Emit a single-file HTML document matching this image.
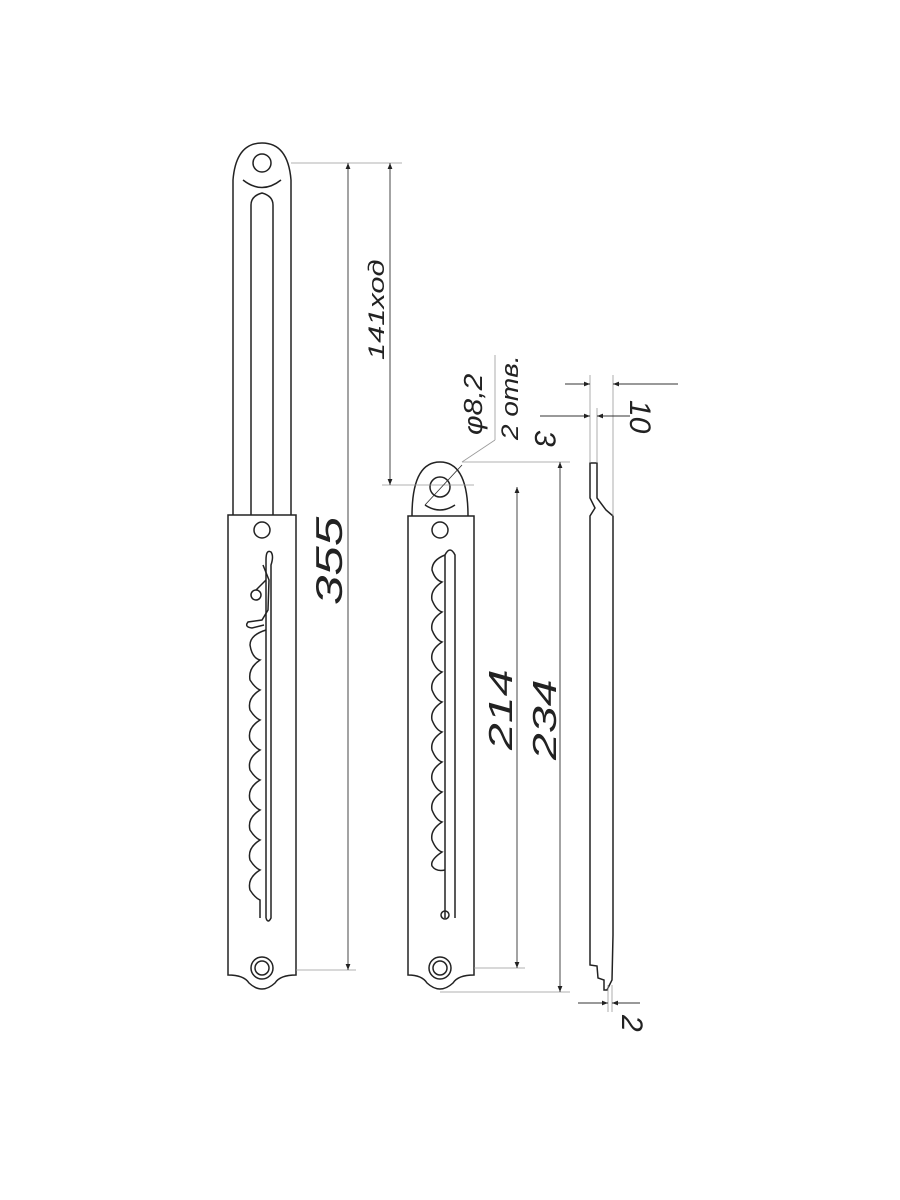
<!DOCTYPE html>
<html><head><meta charset="utf-8"><style>html,body{margin:0;padding:0;background:#fff}svg{display:block}</style></head>
<body>
<svg width="900" height="1200" viewBox="0 0 900 1200" xmlns="http://www.w3.org/2000/svg" font-family="Liberation Sans, sans-serif">
<defs>
<marker id="a" viewBox="0 0 10 10" refX="10" refY="5" markerWidth="18" markerHeight="6" orient="auto-start-reverse" markerUnits="userSpaceOnUse"><path d="M0,1 L10,5 L0,9 Z" fill="#222"/></marker>
</defs>
<g fill="none" stroke="#222" stroke-width="1.5">
<path d="M233,515 L233,180 Q236,143 262,143 Q288,143 291,180 L291,515"/>
<circle cx="262" cy="163" r="9"/>
<path d="M243,180 Q262,195 281,180"/>
<path d="M251,515 L251,205 Q251,196 262,193 Q273,196 273,205 L273,515"/>
<path d="M228,515 L296,515 L296,975 Q280,975 275,983 Q262,995 249,983 Q244,975 228,975 Z"/>
<circle cx="262" cy="530" r="8"/>
<circle cx="262" cy="968" r="11"/><circle cx="262" cy="968" r="7"/>
<path d="M266,918 L266,560 Q266,549 271,552 Q274,556 271,565 L271,918 Q268,924 266,918"/>
<path d="M263,565 L269,580 L268,610 L262,620 L248,622 Q244,627 252,628 L264,625 M256,590 L266,580"/>
<circle cx="256" cy="595" r="5"/>
<path d="M266,630 Q250,635 250,645 Q252,658 260,660 Q248,668 250,680 Q255,688 260,690 Q247,698 250,710 Q255,718 260,720 Q247,728 250,740 Q255,748 260,750 Q247,758 250,770 Q255,778 260,780 Q247,788 250,800 Q255,808 260,810 Q247,818 250,830 Q255,838 260,840 Q247,848 250,860 Q255,868 260,870 Q247,878 250,890 Q255,898 260,900 L260,918"/>
<path d="M412,516 Q412,462 440,462 Q468,462 468,516"/>
<circle cx="440" cy="487" r="10"/>
<path d="M425,505 Q440,515 455,505"/>
<path d="M408,516 L474,516 L474,975 Q458,975 453,983 Q440,995 427,983 Q422,975 408,975 Z"/>
<circle cx="440" cy="530" r="8"/>
<circle cx="440" cy="968" r="11"/><circle cx="440" cy="968" r="7"/>
<path d="M445,918 L445,555 Q450,545 455,555 L455,918"/>
<circle cx="445" cy="915" r="4"/>
<path d="M445,555 Q432,560 432,570 Q435,580 442,582 Q430,590 432,600 Q436,610 442,612 Q430,620 432,630 Q436,640 442,642 Q430,650 432,660 Q436,670 442,672 Q430,680 432,690 Q436,700 442,702 Q430,710 432,720 Q436,730 442,732 Q430,740 432,750 Q436,760 442,762 Q430,770 432,780 Q436,790 442,792 Q430,800 432,810 Q436,820 442,822 Q430,830 432,840 Q436,850 442,852 Q430,860 432,866 Q436,872 445,870"/>
<path d="M590,463 L597,463 L597,498 L606,510 L613,516 L613,935 L612,980 L607,990 L604,990 L604,980 L598,978 L597,966 L590,965 L590,516 L595,508 L590,498 Z"/>
</g>
<g fill="none" stroke="#999" stroke-width="0.8">
<line x1="291" y1="163" x2="402" y2="163"/><line x1="296" y1="970" x2="356" y2="970"/>
<line x1="382" y1="485" x2="474" y2="485"/><line x1="462" y1="462" x2="570" y2="462"/>
<line x1="474" y1="968" x2="525" y2="968"/><line x1="440" y1="992" x2="570" y2="992"/>
<line x1="590" y1="375" x2="590" y2="463"/><line x1="613" y1="375" x2="613" y2="516"/><line x1="597" y1="408" x2="597" y2="463"/>
<line x1="608" y1="985" x2="608" y2="1012"/><line x1="612" y1="985" x2="612" y2="1012"/>
<line x1="462" y1="462" x2="495" y2="440"/><line x1="495" y1="440" x2="495" y2="355"/>
</g>
<g stroke="#333" stroke-width="0.9" fill="none">
<line x1="348" y1="163" x2="348" y2="970" marker-start="url(#a)" marker-end="url(#a)"/>
<line x1="390" y1="163" x2="390" y2="485" marker-start="url(#a)" marker-end="url(#a)"/>
<line x1="517" y1="487" x2="517" y2="968" marker-start="url(#a)" marker-end="url(#a)"/>
<line x1="560" y1="462" x2="560" y2="992" marker-start="url(#a)" marker-end="url(#a)"/>
<line x1="565" y1="384" x2="590" y2="384" marker-end="url(#a)"/><line x1="678" y1="384" x2="613" y2="384" marker-end="url(#a)"/>
<line x1="540" y1="416" x2="590" y2="416" marker-end="url(#a)"/><line x1="630" y1="416" x2="597" y2="416" marker-end="url(#a)"/>
<line x1="578" y1="1003" x2="608" y2="1003" marker-end="url(#a)"/><line x1="640" y1="1003" x2="612" y2="1003" marker-end="url(#a)"/>
<line x1="425" y1="505" x2="462" y2="465"/>
</g>
<g fill="#222" font-style="italic">
<text transform="translate(342,605) rotate(-90) scale(1.15,0.8)" font-size="46">355</text>
<text transform="translate(384,360) rotate(-90) scale(1.1,0.8)" font-size="28">141ход</text>
<text transform="translate(512,750) rotate(-90) scale(1.15,0.8)" font-size="42">214</text>
<text transform="translate(556,760) rotate(-90) scale(1.15,0.8)" font-size="42">234</text>
<text transform="translate(482,435) rotate(-90) scale(1,0.85)" font-size="30">φ8,2</text>
<text transform="translate(518,440) rotate(-90) scale(1,0.85)" font-size="28">2 отв.</text>
<text transform="translate(535,430) rotate(90)" font-size="30">3</text>
<text transform="translate(630,400) rotate(90)" font-size="30">10</text>
<text transform="translate(622,1015) rotate(90)" font-size="30">2</text>
</g>
</svg>
</body></html>
